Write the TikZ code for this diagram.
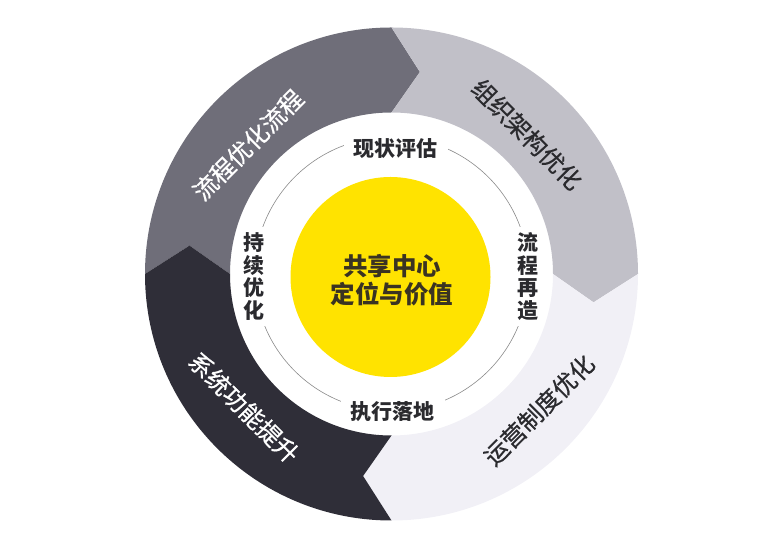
\documentclass[tikz,border=0pt]{standalone}
\usepackage{fontspec}
\newfontfamily\cjk{Noto Sans CJK SC}
\newfontfamily\cjkring[FakeBold=0.7]{Noto Sans CJK SC}
\definecolor{segA}{HTML}{6F6E79}
\definecolor{segB}{HTML}{C1C0C8}
\definecolor{segC}{HTML}{F1F0F6}
\definecolor{segD}{HTML}{2F2E38}
\definecolor{coreY}{HTML}{FFE300}
\definecolor{txtD}{HTML}{2A2A2E}
\definecolor{txtC}{HTML}{3A3322}
\definecolor{lineG}{HTML}{8A8A8A}
\newcommand\ringseg[2]{%
  \fill[#2] ({#1}:246.5) arc[start angle={#1}, end angle={#1-90}, radius=246.5]
    -- ({#1-98}:204) -- ({#1-90}:161.5) arc[start angle={#1-90}, end angle={#1}, radius=161.5]
    -- ({#1-8}:204) -- cycle;}
\tikzset{
  ringlbl/.style={font=\cjkring\fontsize{24}{24}\selectfont, inner sep=0pt},
  innerlbl/.style={font=\cjk\bfseries\fontsize{21}{22.5}\selectfont, text=txtD, fill=white, align=center},
  corelbl/.style={font=\cjk\bfseries\fontsize{24.5}{28}\selectfont, text=txtC, align=center, inner sep=0pt}
}
\begin{document}
\begin{tikzpicture}[x=1pt,y=1pt]
\useasboundingbox (0,0) rectangle (784,545);
\coordinate (O) at (391.5,271);
\begin{scope}[shift={(O)}]
  \ringseg{180}{segA}
  \ringseg{90}{segB}
  \ringseg{0}{segC}
  \ringseg{270}{segD}
  \draw[lineG, line width=0.6pt] (0,0) circle[radius=137];
  \fill[coreY] (-1,-3) circle[radius=100];
\end{scope}
\node[corelbl] (core) at (392,265) {共享中心\\定位与价值};
\node[innerlbl, inner xsep=10pt, inner ysep=3pt] (top) at (395.5,396.5) {现状评估};
\node[innerlbl, inner xsep=10pt, inner ysep=3pt] (bot) at (392.5,133) {执行落地};
\node[innerlbl, inner xsep=3pt, inner ysep=6pt] (left) at (254,268.5) {持\\续\\优\\化};
\node[innerlbl, inner xsep=3pt, inner ysep=6pt] (right) at (527.5,268.5) {流\\程\\再\\造};
\node[ringlbl, text=white, rotate=45] (tl) at (248,400) {流程优化流程};
\node[ringlbl, text=txtD, rotate=-45] (tr) at (527,410.5) {组织架构优化};
\node[ringlbl, text=txtD, rotate=45] (br) at (539,135) {运营制度优化};
\node[ringlbl, text=white, rotate=-45] (bl) at (244,137.5) {系统功能提升};
\end{tikzpicture}
\end{document}
